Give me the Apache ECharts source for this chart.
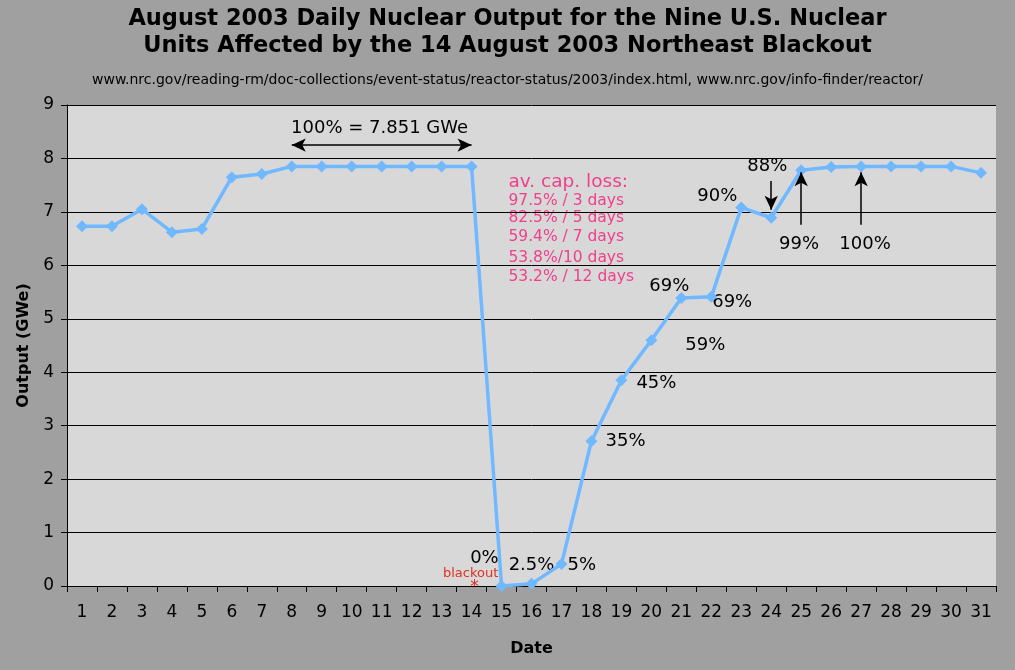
<!DOCTYPE html>
<html><head><meta charset="utf-8">
<script src="https://cdn.jsdelivr.net/npm/echarts@6/dist/echarts.min.js"></script>
<style>html,body{margin:0;padding:0;background:#A0A0A0}#c{width:1015px;height:670px}</style>
</head><body><div id="c"></div>
<script>
const days = ['1','2','3','4','5','6','7','8','9','10','11','12','13','14','15','16','17','18','19','20','21','22','23','24','25','26','27','28','29','30','31'];
const output = [6.73,6.73,7.05,6.62,6.68,7.65,7.71,7.851,7.851,7.851,7.851,7.851,7.851,7.851,0.0,0.04,0.41,2.71,3.85,4.60,5.39,5.41,7.08,6.89,7.78,7.84,7.851,7.851,7.851,7.851,7.73];
const yTicks = [0,1,2,3,4,5,6,7,8,9];
const lossLines = ['97.5% / 3 days','82.5% / 5 days','59.4% / 7 days','53.8%/10 days','53.2% / 12 days'];

const chart = echarts.init(document.getElementById('c'));
const graphics = [
  {type:'text',left:'center',top:6,style:{text:'August 2003 Daily Nuclear Output for the Nine U.S. Nuclear\nUnits Affected by the 14 August 2003 Northeast Blackout',fill:'#000',font:'bold 22.5px "DejaVu Sans"',textAlign:'center',lineHeight:27}},
  {type:'text',left:'center',top:73,style:{text:'www.nrc.gov/reading-rm/doc-collections/event-status/reactor-status/2003/index.html, www.nrc.gov/info-finder/reactor/',fill:'#000',font:'14px "DejaVu Sans"',textAlign:'center'}}
];
chart.setOption({
  animation:false,
  backgroundColor:'#A0A0A0',
  grid:{left:67,right:19,top:105,bottom:84,show:true,backgroundColor:'#D8D8D8',borderWidth:0},
  xAxis:{type:'category',data:days,boundaryGap:true,
    name:'Date',nameLocation:'middle',nameGap:55,nameTextStyle:{fontFamily:'DejaVu Sans',fontWeight:'bold',fontSize:16,color:'#000'},
    axisLine:{lineStyle:{color:'#000',width:1}},axisTick:{show:true,length:6,lineStyle:{color:'#000'}},
    axisLabel:{color:'#000',fontFamily:'DejaVu Sans',fontSize:17,margin:18,interval:0},splitLine:{show:false}},
  yAxis:{type:'value',min:yTicks[0],max:yTicks[yTicks.length-1],interval:1,
    name:'Output (GWe)',nameLocation:'middle',nameGap:31,nameRotate:90,nameTextStyle:{fontFamily:'DejaVu Sans',fontWeight:'bold',fontSize:16,color:'#000'},
    axisLine:{show:true,lineStyle:{color:'#000',width:1}},axisTick:{show:true,length:6,lineStyle:{color:'#000'}},
    axisLabel:{color:'#000',fontFamily:'DejaVu Sans',fontSize:17,margin:13},
    splitLine:{show:true,lineStyle:{color:'#000',width:1}}},
  series:[{type:'line',data:output,symbol:'diamond',symbolSize:12,showSymbol:true,
    lineStyle:{color:'#70B8FF',width:3.5},itemStyle:{color:'#70B8FF'},
    markLine:{silent:true,symbol:['arrow','arrow'],symbolSize:[10,14],label:{show:false},
      lineStyle:{color:'#000',width:1.5,type:'solid'},
      data:[
        [{coord:[7,8.25]},{coord:[13,8.25]}],
        [{coord:[23,7.58],symbol:'none'},{coord:[23,7.04],symbol:'arrow'}],
        [{coord:[24,6.76],symbol:'none'},{coord:[24,7.74],symbol:'arrow'}],
        [{coord:[26,6.76],symbol:'none'},{coord:[26,7.74],symbol:'arrow'}]
      ]}
  }],
  graphic:graphics
});
const P0 = (i,v) => chart.convertToPixel({gridIndex:0},[i,v]);
const band = P0(1,0)[0] - P0(0,0)[0];
const P = (i,v,off) => { const p = P0(i,v); return [p[0] + (off||0)*band, p[1]]; };
// [index, value, text, align, offset in category widths]
const ann = [
  [10,8.57,'100% = 7.851 GWe','center',-0.07],
  [23,7.85,'88%','center',-0.13],
  [24,6.4,'99%','center',-0.07],
  [26,6.4,'100%','center',0.13],
  [22,7.3,'90%','center',-0.8],
  [20,5.6,'69%','center',-0.4],
  [21,5.3,'69%','left',0.03],
  [19,4.5,'59%','left',1.13],
  [18,3.8,'45%','left',0.5],
  [17,2.7,'35%','left',0.47],
  [16,0.39,'5%','left',0.2],
  [15,0.39,'2.5%','center',0],
  [14,0.51,'0%','center',-0.57]
];
const extra = [];
ann.forEach(a => {
  const p = P(a[0], a[1], a[4]);
  extra.push({type:'text',x:p[0],y:p[1],style:{text:a[2],fill:'#000',font:'18px "DejaVu Sans"',align:a[3],verticalAlign:'middle'}});
});
const pink = '#F0408C';
const p0 = P(14,7.56,0.23);
extra.push({type:'text',x:p0[0],y:p0[1],style:{text:'av. cap. loss:',fill:pink,font:'18.5px "DejaVu Sans"',align:'left',verticalAlign:'middle'}});
const lossY = [7.20,6.89,6.53,6.14,5.78];
lossLines.forEach((t,k)=>{const q=P(14,lossY[k],0.23);extra.push({type:'text',x:q[0],y:q[1],style:{text:t,fill:pink,font:'15.5px "DejaVu Sans"',align:'left',verticalAlign:'middle'}});});
const b = P(13,0.24,-0.03);
extra.push({type:'text',x:b[0],y:b[1],style:{text:'blackout',fill:'#E03020',font:'13px "DejaVu Sans"',align:'center',verticalAlign:'middle'}});
const s = P(13,0.0,0.1);
extra.push({type:'text',x:s[0],y:s[1]+2,style:{text:'*',fill:'#E03020',font:'17px "DejaVu Sans"',align:'center',verticalAlign:'middle'}});
chart.setOption({graphic:graphics.concat(extra)});
</script></body></html>
